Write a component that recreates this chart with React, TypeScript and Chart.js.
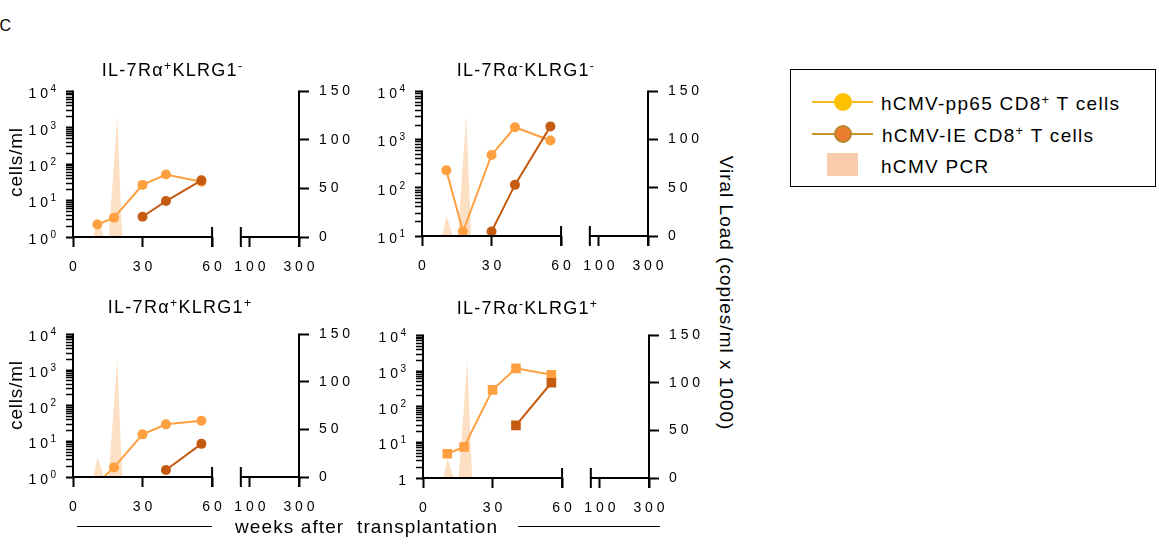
import React, { useEffect, useRef } from "react";
import { Chart, registerables } from "chart.js";

Chart.register(...registerables);

const FONT = '"Liberation Sans", Arial, Helvetica, sans-serif';

// ---------- data ----------
const sampleWeeks = [10.5, 17.7, 30, 40.1, 55.4];
const ieWeeksA = [30, 40.1, 55.4];
const ieWeeksB = [30, 40.1, 55.4];
const ieWeeksC = [40.1, 55.4];
const ieWeeksD = [40.1, 55.4];

// IL-7Ra+ KLRG1-
const pp65A = [2.2, 3.4, 27, 52, 33];
const ieA = [3.6, 9.7, 36];
// IL-7Ra- KLRG1-
const pp65B = [230, 12.4, 480, 1800, 960];
const ieB = [12.4, 115, 1880];
// IL-7Ra+ KLRG1+
const pp65C = [0.68, 1.86, 15.7, 30, 38];
const ieC = [1.57, 8.5];
// IL-7Ra- KLRG1+
const pp65D = [4.8, 7.4, 297, 1190, 785];
const ieD = [30, 470];

// hCMV PCR viral load (copies/ml x 1000)
const pcrWeeks = [8.8, 10.6, 13.3, 15.4, 19.1, 21.2];
const pcrLoad = [0, 21, 0, 0, 124, 0];

const weekTicks = [0, 30, 60, 100, 300];
const viralTicks = [0, 50, 100, 150];

// ---------- broken x axis mapping ----------
const BREAK_AT = 72.4;
const POS_100 = 76.3;
const XMAX = 97.5;
function mapWeek(w: number): number {
  if (w <= 60) return w;
  return POS_100 + ((w - 100) * (XMAX - POS_100)) / 200;
}
const spaced = (s: string) => s.split("").join(" ");

const C_PP65 = "#FFA040";
const C_IE = "#C55A11";
const C_PCR = "#FDDFC3";

const LEFT_W = 73;
const RIGHT_W = 60;
const TOP_PAD = 12;
const BOTTOM_H = 48;

const axesPlugin = {
  id: "prismAxes",
  afterDatasetsDraw(chart: any, _args: any, opts: any) {
    const { ctx, chartArea: ca } = chart;
    const xs = chart.scales.x;
    const ys = chart.scales.y;
    ctx.save();
    ctx.strokeStyle = "#000";
    ctx.lineWidth = 2;
    const seg = (x1: number, y1: number, x2: number, y2: number) => {
      ctx.beginPath();
      ctx.moveTo(x1, y1);
      ctx.lineTo(x2, y2);
      ctx.stroke();
    };
    const yb = ca.bottom;
    const x60 = xs.getPixelForValue(mapWeek(60));
    const xBr = xs.getPixelForValue(BREAK_AT);
    seg(ca.left - 1, yb, x60, yb);
    seg(xBr, yb, ca.right + 1, yb);
    seg(x60, yb - 10, x60, yb + 10);
    seg(xBr, yb - 10, xBr, yb + 10);
    seg(ca.left, ca.top - 1, ca.left, yb + 1);
    seg(ca.right, ca.top - 1, ca.right, yb + 10);

    // log axis labels: "1 0" with exponent
    ctx.fillStyle = "#000";
    ctx.textAlign = "right";
    ctx.textBaseline = "middle";
    const rightEdge = ca.left - 17;
    const eMin = Math.round(Math.log10(ys.min));
    const eMax = Math.round(Math.log10(ys.max));
    for (let e = eMin; e <= eMax; e++) {
      const py = ys.getPixelForValue(Math.pow(10, e));
      if (e === 0 && opts.bareOne) {
        ctx.font = `14px ${FONT}`;
        ctx.fillText("1", rightEdge, py + 3);
        continue;
      }
      ctx.font = `10px ${FONT}`;
      const es = String(e);
      const ew = ctx.measureText(es).width;
      ctx.fillText(es, rightEdge, py - 2);
      ctx.font = `14px ${FONT}`;
      ctx.fillText("1 0", rightEdge - ew - 2.5, py + 3);
    }
    ctx.restore();
  },
};

type PanelCfg = {
  L: number;
  R: number;
  T: number;
  B: number;
  yMin: number;
  yMax: number;
  pp65: number[];
  pp65Weeks: number[];
  ie: number[];
  ieWeeks: number[];
  square: boolean;
  bareOne: boolean;
  clipBottom: boolean;
};

const panels: PanelCfg[] = [
  { L: 73, R: 299, T: 85, B: 237, yMin: 1, yMax: 1e4, pp65: pp65A, pp65Weeks: sampleWeeks, ie: ieA, ieWeeks: ieWeeksA, square: false, bareOne: false, clipBottom: false },
  { L: 422, R: 648, T: 85, B: 236, yMin: 10, yMax: 1e4, pp65: pp65B, pp65Weeks: sampleWeeks, ie: ieB, ieWeeks: ieWeeksB, square: false, bareOne: false, clipBottom: false },
  { L: 73, R: 299, T: 328, B: 477, yMin: 1, yMax: 1e4, pp65: pp65C, pp65Weeks: sampleWeeks, ie: ieC, ieWeeks: ieWeeksC, square: false, bareOne: false, clipBottom: true },
  { L: 423, R: 649, T: 329, B: 478, yMin: 1, yMax: 1e4, pp65: pp65D, pp65Weeks: sampleWeeks, ie: ieD, ieWeeks: ieWeeksD, square: true, bareOne: true, clipBottom: false },
];

function logTicks(min: number, max: number) {
  const out: { value: number; major: boolean }[] = [];
  for (let e = Math.round(Math.log10(min)); e < Math.round(Math.log10(max)); e++) {
    for (let s = 1; s <= 9; s++) out.push({ value: s * Math.pow(10, e), major: s === 1 });
  }
  out.push({ value: max, major: true });
  return out;
}

function Panel({ cfg }: { cfg: PanelCfg }) {
  const ref = useRef<HTMLCanvasElement>(null);
  const left = cfg.L - LEFT_W;
  const top = cfg.T - TOP_PAD;
  const width = cfg.R - cfg.L + LEFT_W + RIGHT_W;
  const height = cfg.B - cfg.T + TOP_PAD + BOTTOM_H;

  useEffect(() => {
    const pointStyle = cfg.square ? "rect" : "circle";
    const radius = cfg.square ? 6.8 : 5;
    const chart = new Chart(ref.current as HTMLCanvasElement, {
      type: "line",
      data: {
        datasets: [
          {
            label: "hCMV-IE CD8+ T cells",
            data: cfg.ieWeeks.map((w, i) => ({ x: mapWeek(w), y: cfg.ie[i] })),
            borderColor: C_IE,
            backgroundColor: C_IE,
            borderWidth: 2,
            pointStyle,
            pointRadius: radius,
            pointBorderWidth: 0,
            yAxisID: "y",
          },
          {
            label: "hCMV-pp65 CD8+ T cells",
            data: cfg.pp65Weeks.map((w, i) => ({ x: mapWeek(w), y: cfg.pp65[i] })),
            borderColor: C_PP65,
            backgroundColor: C_PP65,
            borderWidth: 2,
            pointStyle,
            pointRadius: radius,
            pointBorderWidth: 0,
            yAxisID: "y",
            clip: cfg.clipBottom ? { left: 10, top: 10, right: 10, bottom: 0 } : 10,
          },
          {
            label: "hCMV PCR",
            data: pcrWeeks.map((w, i) => ({ x: mapWeek(w), y: pcrLoad[i] })),
            borderWidth: 0,
            borderColor: C_PCR,
            backgroundColor: C_PCR,
            pointRadius: 0,
            fill: "origin",
            yAxisID: "y2",
          },
        ] as any,
      },
      options: {
        responsive: false,
        animation: false,
        devicePixelRatio: 1,
        events: [],
        layout: { padding: { top: TOP_PAD, left: 0, right: 0, bottom: 0 } },
        plugins: {
          legend: { display: false },
          tooltip: { enabled: false },
          title: { display: false },
          prismAxes: { bareOne: cfg.bareOne },
        } as any,
        scales: {
          x: {
            type: "linear",
            position: "bottom",
            min: 0,
            max: XMAX,
            afterBuildTicks: (scale: any) => {
              scale.ticks = weekTicks.map((w) => ({ value: mapWeek(w) }));
            },
            afterFit: (scale: any) => {
              scale.height = BOTTOM_H;
            },
            border: { display: false },
            grid: {
              drawOnChartArea: false,
              drawTicks: true,
              tickLength: 10,
              tickWidth: 2,
              tickColor: "#000",
            },
            ticks: {
              autoSkip: false,
              maxRotation: 0,
              padding: 12,
              color: "#000",
              font: { family: FONT, size: 14 },
              callback: (_v: any, i: number) => spaced(String(weekTicks[i])),
            },
          },
          y: {
            type: "logarithmic",
            position: "left",
            min: cfg.yMin,
            max: cfg.yMax,
            afterBuildTicks: (scale: any) => {
              scale.ticks = logTicks(cfg.yMin, cfg.yMax);
            },
            afterFit: (scale: any) => {
              scale.width = LEFT_W;
            },
            border: { display: false },
            grid: {
              drawOnChartArea: false,
              drawTicks: true,
              tickLength: 7,
              tickWidth: (c: any) => (c.tick && c.tick.major ? 2 : 1.5),
              tickColor: "#000",
            },
            ticks: {
              autoSkip: false,
              color: "#000",
              font: { family: FONT, size: 14 },
              callback: () => "",
            },
          },
          y2: {
            type: "linear",
            position: "right",
            min: 0,
            max: 150,
            afterBuildTicks: (scale: any) => {
              scale.ticks = viralTicks.map((v) => ({ value: v }));
            },
            afterFit: (scale: any) => {
              scale.width = RIGHT_W;
            },
            border: { display: false },
            grid: {
              drawOnChartArea: false,
              drawTicks: true,
              tickLength: 10,
              tickWidth: 2,
              tickColor: "#000",
            },
            ticks: {
              autoSkip: false,
              padding: 10,
              color: "#000",
              font: { family: FONT, size: 14 },
              callback: (v: any) => spaced(String(v)),
            },
          },
        } as any,
      },
      plugins: [axesPlugin],
    });
    return () => chart.destroy();
  }, []);

  return (
    <canvas
      ref={ref}
      width={width}
      height={height}
      style={{ position: "absolute", left, top, width, height }}
    />
  );
}

const supStyle: React.CSSProperties = {
  fontSize: "0.68em",
  position: "relative",
  top: "-0.48em",
  lineHeight: 0,
  verticalAlign: "baseline",
};

function Sup({ children }: { children: React.ReactNode }) {
  return <span style={supStyle}>{children}</span>;
}

function Txt({
  left,
  top,
  size,
  spacing,
  children,
}: {
  left: number;
  top: number;
  size: number;
  spacing: number;
  children: React.ReactNode;
}) {
  return (
    <div
      style={{
        position: "absolute",
        left,
        top,
        fontSize: size,
        lineHeight: 1,
        letterSpacing: spacing,
        whiteSpace: "nowrap",
      }}
    >
      {children}
    </div>
  );
}

function PanelTitle({ left, top, a, b }: { left: number; top: number; a: string; b: string }) {
  return (
    <Txt left={left} top={top} size={18} spacing={1.3}>
      IL-7Rα<Sup>{a}</Sup>KLRG1<Sup>{b}</Sup>
    </Txt>
  );
}

export default function App() {
  return (
    <div
      style={{
        position: "absolute",
        left: 0,
        top: 0,
        width: 1159,
        height: 548,
        background: "#fff",
        fontFamily: FONT,
        color: "#000",
        overflow: "hidden",
      }}
    >
      <Txt left={-0.5} top={18} size={16} spacing={0}>
        C
      </Txt>

      {panels.map((p, i) => (
        <Panel key={i} cfg={p} />
      ))}

      <PanelTitle left={101.7} top={60.5} a="+" b="-" />
      <PanelTitle left={456.7} top={60.5} a="-" b="-" />
      <PanelTitle left={107.7} top={297.5} a="+" b="+" />
      <PanelTitle left={456.7} top={298.8} a="-" b="+" />

      {[161.7, 395].map((cy, i) => (
        <div
          key={i}
          style={{
            position: "absolute",
            left: 15,
            top: cy,
            fontSize: 19,
            lineHeight: 1,
            letterSpacing: 0.8,
            whiteSpace: "nowrap",
            transform: "translate(-50%, -50%) rotate(-90deg)",
          }}
        >
          cells/ml
        </div>
      ))}

      <div
        style={{
          position: "absolute",
          left: 726,
          top: 293,
          fontSize: 19,
          lineHeight: 1,
          letterSpacing: 1,
          whiteSpace: "nowrap",
          transform: "translate(-50%, -50%) rotate(90deg)",
        }}
      >
        Viral Load (copies/ml x 1000)
      </div>

      <Txt left={235} top={517.2} size={19} spacing={1.1}>
        weeks after&nbsp; transplantation
      </Txt>
      <div style={{ position: "absolute", left: 77, top: 525.5, width: 135, height: 1, background: "#000" }} />
      <div style={{ position: "absolute", left: 518, top: 525.5, width: 142, height: 1, background: "#000" }} />

      {/* legend */}
      <div
        style={{
          position: "absolute",
          left: 790,
          top: 69,
          width: 366,
          height: 118,
          border: "1px solid #000",
          boxSizing: "border-box",
        }}
      />
      <div style={{ position: "absolute", left: 812, top: 101.3, width: 61, height: 1.5, background: "#F4B820" }} />
      <div style={{ position: "absolute", left: 834, top: 93, width: 18, height: 18, borderRadius: "50%", background: "#FFC000" }} />
      <Txt left={881} top={93.9} size={19} spacing={1.3}>
        hCMV-pp65 CD8<Sup>+</Sup> T cells
      </Txt>
      <div style={{ position: "absolute", left: 812, top: 133.3, width: 61, height: 1.5, background: "#C8922A" }} />
      <div
        style={{
          position: "absolute",
          left: 834,
          top: 125,
          width: 18,
          height: 18,
          borderRadius: "50%",
          background: "#ED7D31",
          border: "2px solid #B8862B",
          boxSizing: "border-box",
        }}
      />
      <Txt left={882} top={125.6} size={19} spacing={1.3}>
        hCMV-IE CD8<Sup>+</Sup> T cells
      </Txt>
      <div style={{ position: "absolute", left: 827, top: 153, width: 31, height: 23, background: "#F8CBAD" }} />
      <Txt left={881} top={157.2} size={19} spacing={1.3}>
        hCMV PCR
      </Txt>
    </div>
  );
}
